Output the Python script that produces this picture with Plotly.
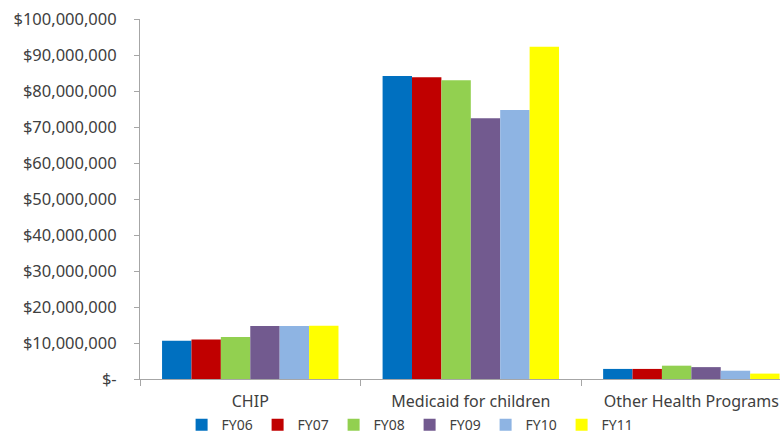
import plotly.graph_objects as go

categories = ["CHIP", "Medicaid for children", "Other Health Programs"]
series_names = ["FY06", "FY07", "FY08", "FY09", "FY10", "FY11"]
fy06 = [10.6e6, 84.2e6, 2.8e6]
fy07 = [11.0e6, 83.8e6, 2.8e6]
fy08 = [11.7e6, 83.0e6, 3.7e6]
fy09 = [14.7e6, 72.4e6, 3.3e6]
fy10 = [14.7e6, 74.7e6, 2.3e6]
fy11 = [14.8e6, 92.3e6, 1.5e6]
series_values = [fy06, fy07, fy08, fy09, fy10, fy11]
colors = ["#0070C0", "#C00000", "#92D050", "#725A8F", "#8EB4E3", "#FFFF00"]

tick_vals = [i * 10_000_000 for i in range(11)]
tick_text = ["$-"] + [f"${v:,}" for v in tick_vals[1:]]

font_family = "Noto Sans"
text_color = "#404040"
axis_color = "#A6A6A6"

fig = go.Figure()
for name, vals, col in zip(series_names, series_values, colors):
    fig.add_trace(go.Bar(x=categories, y=vals, name=name,
                         marker=dict(color=col, line=dict(width=0))))

fig.update_layout(
    width=780, height=434,
    margin=dict(l=140, r=0, t=19, b=55, autoexpand=False),
    paper_bgcolor="white", plot_bgcolor="white",
    barmode="group", bargap=0.2, bargroupgap=0,
    font=dict(family=font_family, size=16, color=text_color),
    showlegend=True,
    legend=dict(orientation="h", x=0.065, xanchor="left", y=-0.128, yanchor="middle",
                font=dict(size=14, color=text_color), entrywidth=31, itemwidth=30,
                bgcolor="rgba(0,0,0,0)"),
)
fig.update_xaxes(
    range=[-0.5, 2.402], automargin=False, showline=True, linecolor=axis_color, linewidth=1,
    ticks="outside", tickson="boundaries", ticklen=6, tickcolor=axis_color,
    ticklabelstandoff=8,
    showgrid=False, tickfont=dict(size=16, color=text_color),
)
fig.update_yaxes(
    range=[0, 100_000_000], tickvals=tick_vals, ticktext=tick_text, automargin=False,
    showline=True, linecolor=axis_color, linewidth=1,
    ticks="outside", ticklen=5, tickcolor=axis_color, ticklabelstandoff=14,
    showgrid=False, zeroline=False, tickfont=dict(size=16.5, color=text_color),
)

fig.write_html(
    "out.html",
    config={"displayModeBar": False},
    post_script="document.body.style.margin='0';document.body.style.padding='0';",
)
